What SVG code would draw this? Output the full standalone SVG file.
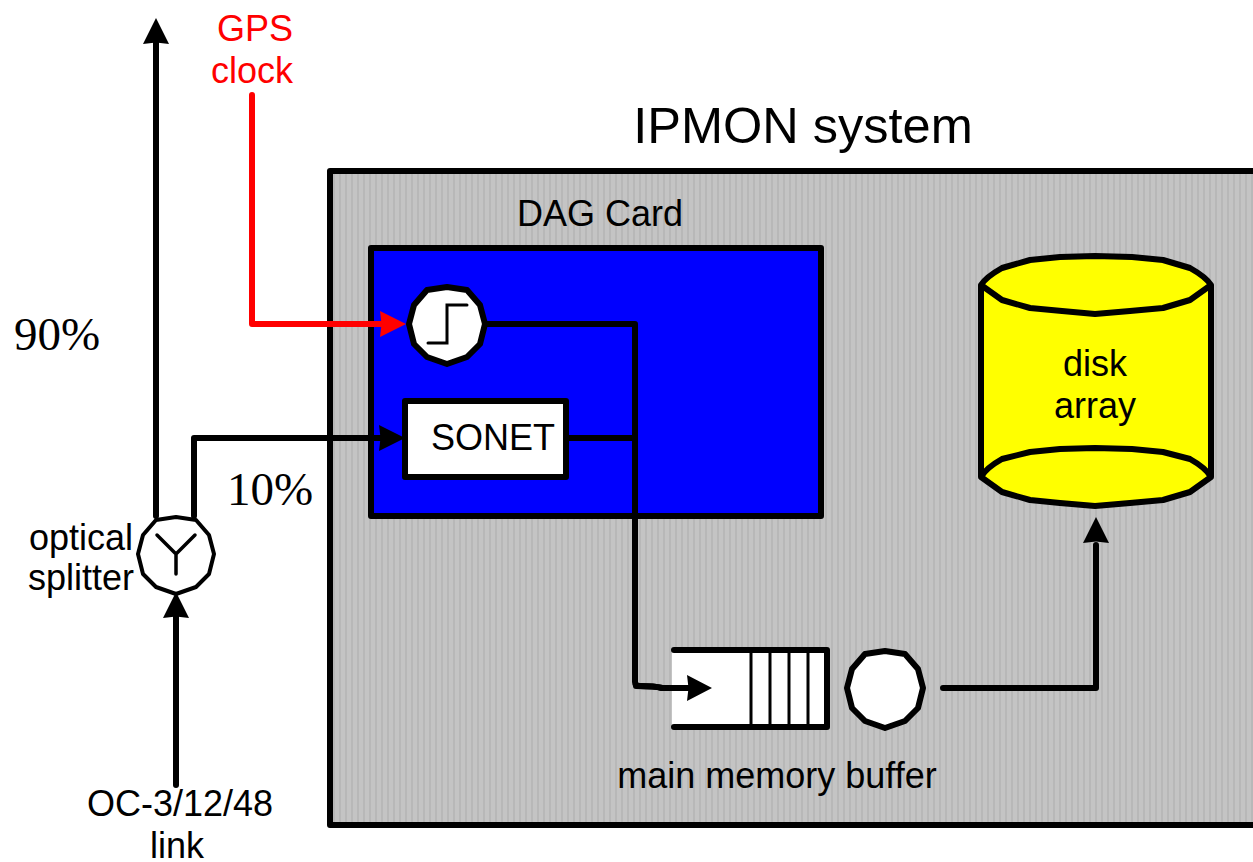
<svg xmlns="http://www.w3.org/2000/svg" width="1253" height="862" viewBox="0 0 1253 862">
<style>
.t{font-family:"Liberation Sans",Arial,sans-serif;font-size:36px;fill:#000;text-anchor:middle}
.r{font-family:"Liberation Serif","Times New Roman",serif;font-size:47px;fill:#000;text-anchor:middle}
.c{fill:none;stroke:#000;stroke-width:6;stroke-linejoin:round;stroke-linecap:round}
.b{stroke:#000;stroke-width:6;stroke-linejoin:round}
.h{fill:#000;stroke:none}
</style>
<defs>
<pattern id="stripes" width="6" height="6" patternUnits="userSpaceOnUse">
<rect width="6" height="6" fill="#c4c4c4"/>
<rect x="3" width="2" height="6" fill="#b8b8b8"/>
</pattern>
<polygon id="round" points="-38,0 -33,-19 -20,-34 0,-37 20,-34 33,-19 38,0 33,20 20,33 0,40 -20,33 -33,20"/>
</defs>
<rect width="1253" height="862" fill="#fff"/>
<g id="ipmon-system">
<rect x="330" y="171" width="930" height="654" fill="url(#stripes)" class="b"/>
<text class="t" x="803" y="143" style="font-size:50.5px">IPMON system</text>
</g>
<g id="dag-card">
<rect x="371" y="248" width="450" height="268" fill="#0000ff" class="b"/>
<text class="t" x="600" y="226">DAG Card</text>
</g>
<g id="connectors">
<path class="c" d="M487 324H635V682Q635 686 640 686Q655 686 662 688H692"/>
<path class="c" d="M566 438H635"/>
<path class="c" d="M156 516V40"/>
<path class="h" d="M143 44L156 18L169 44L156 42.500Z"/>
<path class="c" d="M194 516V438H385"/>
<path class="h" d="M379 425L405 438L379 451L380.500 438Z"/>
<path class="c" d="M176 785V612"/>
<path class="h" d="M163 618L176 592L189 618L176 616.500Z"/>
<path class="c" d="M943 688H1096V545"/>
<path class="h" d="M1083 543L1096 517L1109 543L1096 541.500Z"/>
<path d="M252 95V324H385" fill="none" stroke="#ff0000" stroke-width="6" stroke-linejoin="round" stroke-linecap="round"/>
<path d="M380 311L406 324L380 337L381.500 324Z" fill="#ff0000"/>
</g>
<g id="clock">
<use href="#round" transform="translate(447,324)" fill="#fff" class="b"/>
<path d="M428 343H447V305H467" fill="none" stroke="#000" stroke-width="3" stroke-linecap="round"/>
</g>
<g id="sonet">
<rect x="405" y="401" width="161" height="76" fill="#fff" class="b"/>
<text class="t" x="493" y="450">SONET</text>
</g>
<g id="splitter">
<use href="#round" transform="translate(176,554)" fill="#fff" stroke="#000" stroke-width="4" stroke-linejoin="round"/>
<path d="M157 535L176 554L195 535M176 554V574" fill="none" stroke="#000" stroke-width="3.500" stroke-linecap="round"/>
<text class="t" x="81" y="550">optical</text>
<text class="t" x="81" y="590">splitter</text>
</g>
<g id="memory-buffer">
<rect x="672" y="650" width="155" height="77" fill="#fff"/>
<path d="M751 650V727M770 650V727M789 650V727M808 650V727" stroke="#000" stroke-width="3" fill="none"/>
<path class="c" d="M674 650H827V727H674"/>
<text class="t" x="777" y="788">main memory buffer</text>
</g>
<g id="queue-arrow">
<path class="c" d="M636 686Q655 686 662 688H692"/>
<path class="h" d="M687 675L712 688L687 701L688.500 688Z"/>
</g>
<g id="server">
<use href="#round" transform="translate(885,688)" fill="#fff" class="b"/>
</g>
<g id="disk-array">
<path d="M981 285Q986 277 1002 268L1030 260L1060 257L1095 256L1132 257L1163 260L1190 268Q1206 277 1211 285V477L1190 492L1163 500L1130 503L1095 506L1060 503L1030 500L1002 492L981 477Z" fill="#ffff00" class="b"/>
<path d="M981 285L1002 300L1030 308L1062 311L1095 314L1130 311L1163 308L1190 300L1211 285" fill="none" class="b"/>
<path d="M981 477Q986 468 1002 459L1030 452L1060 449L1095 448L1132 449L1163 452L1190 459Q1206 468 1211 477" fill="none" class="b"/>
<text class="t" x="1095" y="376">disk</text>
<text class="t" x="1095" y="418">array</text>
</g>
<g id="labels">
<text class="t" x="255" y="41" style="fill:#ff0000">GPS</text>
<text class="t" x="252" y="83" style="fill:#ff0000">clock</text>
<text class="r" x="57" y="350">90%</text>
<text class="r" x="270" y="505">10%</text>
<text class="t" x="180" y="816">OC-3/12/48</text>
<text class="t" x="177" y="858">link</text>
</g>
</svg>
